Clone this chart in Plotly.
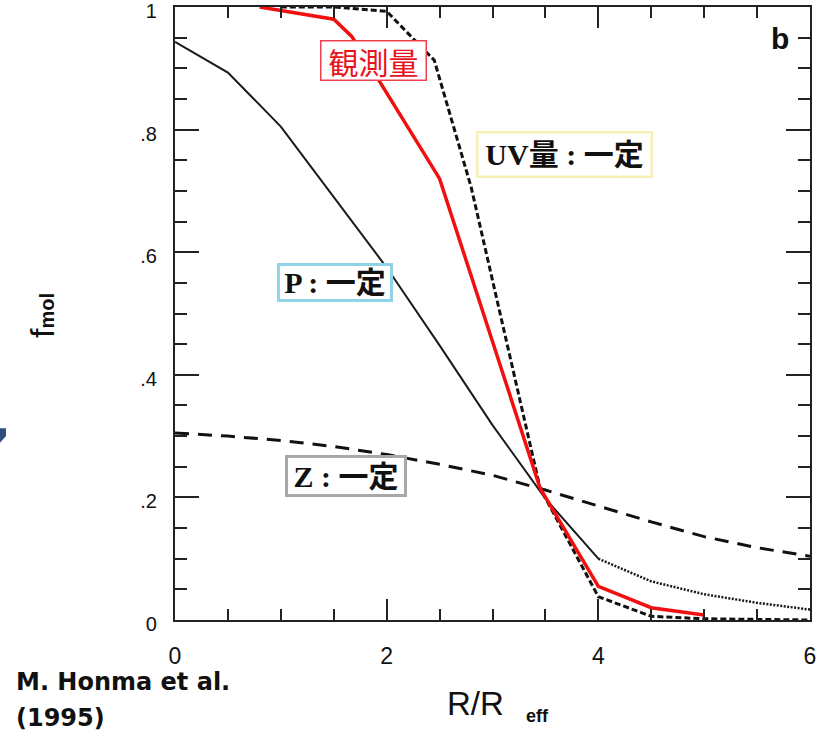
import plotly.graph_objects as go

# ---- data ----
obs_x = [0.8, 1.5, 1.67, 2.0, 2.5, 3.45, 4.0, 4.5, 5.0]
obs_y = [1.0, 0.98, 0.952, 0.86, 0.72, 0.215, 0.055, 0.02, 0.008]

uv_x = [1.0, 1.5, 2.0, 2.45, 2.8, 3.45, 4.0, 4.5, 5.0, 6.0]
uv_y = [1.0, 1.0, 0.993, 0.913, 0.705, 0.215, 0.038, 0.006, 0.002, 0.0]

grid_x = [0, 0.5, 1.0, 1.5, 2.0, 2.5, 3.0, 3.5, 4.0, 4.5, 5.0, 5.5, 6.0]
p_y = [0.943, 0.893, 0.805, 0.69, 0.575, 0.448, 0.318, 0.198, 0.10, 0.063, 0.042, 0.028, 0.017]
z_y = [0.305, 0.300, 0.293, 0.283, 0.270, 0.254, 0.236, 0.212, 0.186, 0.160, 0.136, 0.118, 0.104]

x_ticks = [0, 2, 4, 6]
x_ticktext = ["0", "2", "4", "6"]
y_ticks = [0, 0.2, 0.4, 0.6, 0.8, 1.0]
y_ticktext = ["0", ".2", ".4", ".6", ".8", "1"]

labels = ["観測量", "UV量 : 一定", "P : 一定", "Z : 一定"]

fig = go.Figure()

# P constant: thin solid up to x=4, then fine dots
split = grid_x.index(4.0)
fig.add_trace(go.Scatter(x=grid_x[:split + 1], y=p_y[:split + 1], mode="lines",
                         line=dict(color="#1a1a1a", width=2), showlegend=False))
fig.add_trace(go.Scatter(x=grid_x[split:], y=p_y[split:], mode="lines",
                         line=dict(color="#1a1a1a", width=2.5, dash="2px,1.5px"), showlegend=False))
# Z constant: long dashes
fig.add_trace(go.Scatter(x=grid_x, y=z_y, mode="lines",
                         line=dict(color="#111111", width=3, dash="14px,9px"), showlegend=False))
# UV constant: short dashes
fig.add_trace(go.Scatter(x=uv_x, y=uv_y, mode="lines",
                         line=dict(color="#111111", width=3, dash="6px,3px"), showlegend=False))
# observed
fig.add_trace(go.Scatter(x=obs_x, y=obs_y, mode="lines",
                         line=dict(color="#f01010", width=3.5), showlegend=False))

serif = "Liberation Serif, Noto Sans CJK JP, serif"
ann = [
    dict(x=1.871, y=0.9135, text=labels[0], width=104, height=38, bordercolor="#f04050",
         borderwidth=1.5, font=dict(family="Noto Sans CJK JP", size=30, color="#e8141c")),
    dict(x=3.677, y=0.760, text="<b>" + labels[1] + "</b>", width=172, height=42,
         bordercolor="#f7efb5", borderwidth=2.5, font=dict(family=serif, size=30, color="#111")),
    dict(x=1.512, y=0.5506, text="<b>" + labels[2] + "</b>", width=110, height=33,
         bordercolor="#8fd4e8", borderwidth=3, font=dict(family=serif, size=30, color="#111")),
    dict(x=1.616, y=0.235, text="<b>" + labels[3] + "</b>", width=116, height=36,
         bordercolor="#a8a8a8", borderwidth=3, font=dict(family=serif, size=30, color="#111")),
]
for a in ann:
    fig.add_annotation(xref="x", yref="y", showarrow=False, bgcolor="white",
                       borderpad=0, xanchor="center", yanchor="middle", **a)

fig.add_annotation(xref="x", yref="y", x=5.72, y=0.948, text="<b>b</b>", showarrow=False,
                   xanchor="center", yanchor="middle",
                   font=dict(family="Liberation Sans", size=30, color="#111"))

# axis titles and credit
fig.add_annotation(xref="paper", yref="paper", x=-0.2094, y=0.496, textangle=-90,
                   xanchor="center", yanchor="middle",
                   text="f<span style='font-size:20px;font-weight:bold'>mol</span>",
                   showarrow=False, font=dict(family="Liberation Sans", size=34, color="#111"))
fig.add_annotation(xref="paper", yref="paper", x=0.474, y=-0.137, text="R/R",
                   xanchor="center", yanchor="middle",
                   showarrow=False, font=dict(family="Liberation Sans", size=33, color="#111"))
fig.add_annotation(xref="paper", yref="paper", x=0.571, y=-0.157, text="<b>eff</b>",
                   xanchor="center", yanchor="middle",
                   showarrow=False, font=dict(family="Liberation Sans", size=18, color="#111"))
fig.add_annotation(xref="paper", yref="paper", x=-0.2535, y=-0.101, xanchor="left",
                   yanchor="middle", text="<b>M. Honma et al.</b>", showarrow=False,
                   font=dict(family="DejaVu Sans", size=24, color="#111"))
fig.add_annotation(xref="paper", yref="paper", x=-0.2535, y=-0.160, xanchor="left",
                   yanchor="middle", text="<b>(1995)</b>", showarrow=False,
                   font=dict(family="DejaVu Sans", size=24, color="#111"))

# small blue arrow fragment at the left edge
fig.add_shape(type="path", xref="paper", yref="paper",
              path="M -0.2756 0.313 L -0.2661 0.313 L -0.2661 0.300 L -0.2756 0.289 Z",
              fillcolor="#2e4f7e", line=dict(width=0))

axis_common = dict(showline=True, linewidth=2.2, linecolor="#222", mirror="ticks",
                   ticks="inside", tickcolor="#222", tickwidth=2, showgrid=False,
                   zeroline=False, ticklabeloverflow="allow", automargin=False,
                   tickfont=dict(family="Liberation Sans", size=21, color="#111"))

fig.update_xaxes(range=[0, 6], tickvals=x_ticks, ticktext=x_ticktext, ticklen=21,
                 ticklabelstandoff=14,
                 minor=dict(dtick=0.5, tick0=0, ticks="inside", ticklen=11, tickwidth=1.5,
                            tickcolor="#222"),
                 **axis_common)
fig.update_yaxes(range=[0, 1], tickvals=y_ticks, ticktext=y_ticktext, ticklen=24,
                 ticklabelstandoff=12, ticklabelshift=4,
                 minor=dict(dtick=0.05, tick0=0, ticks="inside", ticklen=12, tickwidth=1.5,
                            tickcolor="#222"),
                 **axis_common)
fig.update_xaxes(tickfont=dict(size=23))
fig.update_yaxes(tickfont=dict(size=20))

fig.update_layout(width=819, height=732, margin=dict(l=175, r=9, t=7, b=112, autoexpand=False),
                  plot_bgcolor="white", paper_bgcolor="white", showlegend=False)

fig.write_html("out.html")
